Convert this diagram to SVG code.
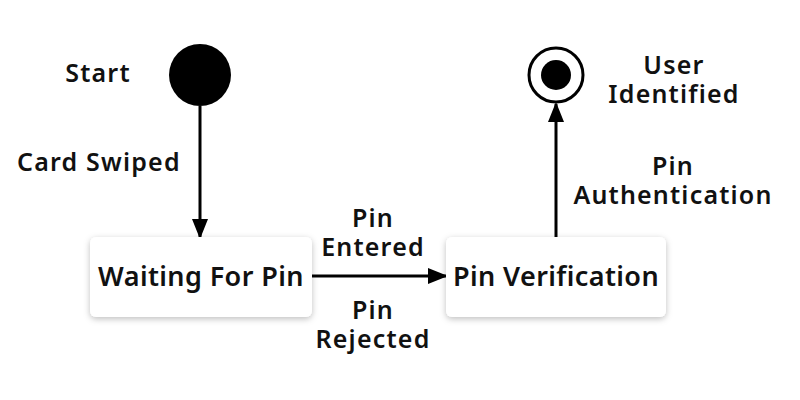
<svg xmlns="http://www.w3.org/2000/svg" width="800" height="400" viewBox="0 0 800 400">
<style>
text{font-family:"Noto Sans","Open Sans",sans-serif;font-weight:600;fill:#111;letter-spacing:1.2px;}
.lbl{font-size:25px;}
.node{font-size:27px;letter-spacing:0.4px;}
.box{fill:#fff;filter:url(#sh);}
</style>
<defs>
<filter id="sh" x="-20%" y="-30%" width="140%" height="160%"><feDropShadow dx="0" dy="2" stdDeviation="3" flood-color="#000" flood-opacity="0.25"/></filter>
<marker id="ah2" markerWidth="20" markerHeight="20" refX="18" refY="10" orient="auto" markerUnits="userSpaceOnUse" viewBox="0 0 20 20"><path d="M0,2 L20,10 L0,18 z" fill="#000"/></marker>
</defs>
<rect width="800" height="400" fill="#fff"/>
<g id="connectors">
<line x1="200" y1="106" x2="200" y2="237" stroke="#000" stroke-width="3" marker-end="url(#ah2)"/>
<line x1="312" y1="276" x2="446" y2="276" stroke="#000" stroke-width="3" marker-end="url(#ah2)"/>
<line x1="556" y1="237" x2="556" y2="104" stroke="#000" stroke-width="3" marker-end="url(#ah2)"/>
<text class="lbl" x="17" y="171">Card Swiped</text>
<text class="lbl" x="373" y="227" text-anchor="middle">Pin</text>
<text class="lbl" x="373" y="256" text-anchor="middle">Entered</text>
<text class="lbl" x="373" y="319" text-anchor="middle">Pin</text>
<text class="lbl" x="373" y="348" text-anchor="middle">Rejected</text>
<text class="lbl" x="673" y="175" text-anchor="middle">Pin</text>
<text class="lbl" x="673" y="204" text-anchor="middle">Authentication</text>
</g>
<g id="start">
<circle cx="200" cy="75" r="31" fill="#000"/>
<text class="lbl" x="98" y="82" text-anchor="middle">Start</text>
</g>
<g id="end">
<circle cx="556" cy="75" r="27" fill="#fff" stroke="#000" stroke-width="3"/>
<circle cx="556" cy="75" r="15" fill="#000"/>
<text class="lbl" x="674" y="74" text-anchor="middle">User</text>
<text class="lbl" x="674" y="103" text-anchor="middle">Identified</text>
</g>
<g id="waiting">
<rect class="box" x="90" y="237" width="222" height="80" rx="6"/>
<text class="node" x="201" y="286" text-anchor="middle">Waiting For Pin</text>
</g>
<g id="verification">
<rect class="box" x="446" y="237" width="220" height="80" rx="6"/>
<text class="node" x="556" y="286" text-anchor="middle">Pin Verification</text>
</g>
</svg>
